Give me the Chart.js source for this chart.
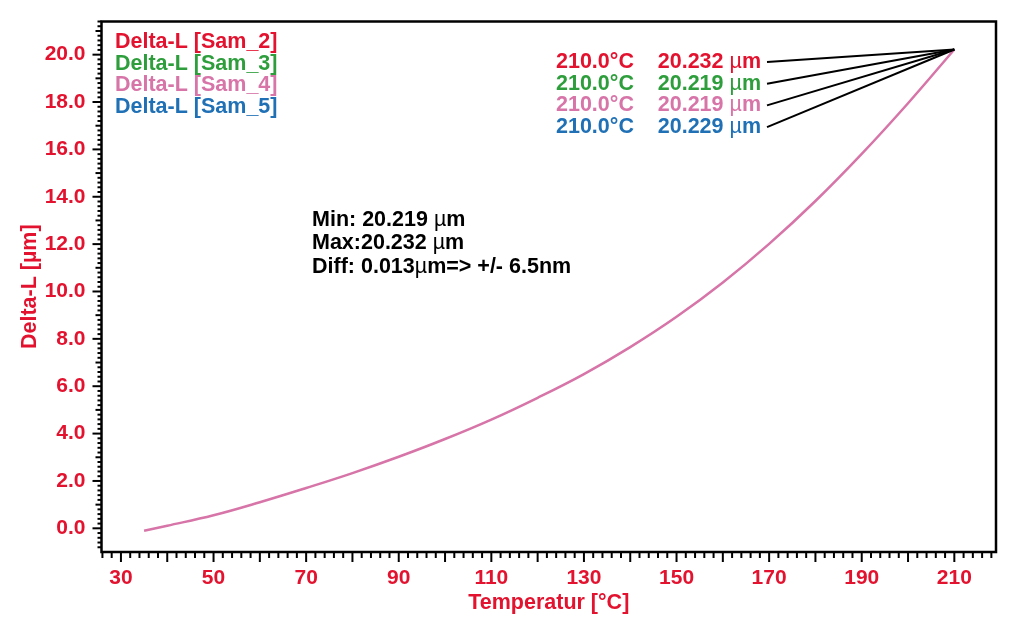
<!DOCTYPE html>
<html>
<head>
<meta charset="utf-8">
<script src="https://cdn.jsdelivr.net/npm/chart.js@4.4.1/dist/chart.umd.min.js"></script>
<style>
  html, body { margin: 0; padding: 0; background: #fff; }
  #wrap { width: 1024px; height: 623px; }
</style>
</head>
<body>
<div id="wrap"><canvas id="chart"></canvas></div>
<script>
// Kurve Delta-L ueber Temperatur
const temps = [35, 40, 50, 60, 70, 80, 90, 100, 110, 120, 130, 140, 150, 160, 170, 180, 190, 200, 210];
const deltaL = [-0.1, 0.11, 0.55, 1.10, 1.70, 2.33, 3.02, 3.77, 4.59, 5.51, 6.51, 7.65, 8.93, 10.38, 12.01, 13.82, 15.81, 17.95, 20.219];

// Proben / Legende
const samples = ['Sam_2', 'Sam_3', 'Sam_4', 'Sam_5'];
const sampleColors = ['#e3132f', '#2e9e3c', '#d774a8', '#1f70b5'];
const endTemps = [210.0, 210.0, 210.0, 210.0];
const endValues = [20.232, 20.219, 20.219, 20.229];

const statsLines = ['Min: 20.219 µm', 'Max:20.232 µm', 'Diff: 0.013µm=> +/- 6.5nm'];

// Achsen
const xMin = 25.8, xMax = 219;
const yMin = -1.0, yMax = 21.4;
const xTickValues = [];
for (let v = 26; v <= 218; v += 2) xTickValues.push(v);
const yTickValues = [];
for (let i = -4; i <= 107; i++) yTickValues.push(Math.round(i * 2) / 10);

const RED = '#e3132f';
const FONT = "'Liberation Sans', Arial, sans-serif";
const FS = 21.5;

// Text mit duennem "µ" (wie im Original)
function drawMixed(ctx, text, x, y, align) {
    const parts = text.split(/(µ)/).filter(p => p.length);
    const fontOf = p => (p === 'µ' ? FS + 'px ' + FONT : 'bold ' + FS + 'px ' + FONT);
    let total = 0;
    parts.forEach(p => { ctx.font = fontOf(p); total += ctx.measureText(p).width; });
    let cx = align === 'right' ? x - total : x;
    ctx.textAlign = 'left';
    parts.forEach(p => {
        ctx.font = fontOf(p);
        ctx.fillText(p, cx, y);
        cx += ctx.measureText(p).width;
    });
}

const tickPlugin = {
    id: 'tickMarks',
    afterDraw(chart) {
        const ctx = chart.ctx;
        const xs = chart.scales.x, ys = chart.scales.y;
        const area = chart.chartArea;
        ctx.save();
        ctx.strokeStyle = '#000';
        ctx.lineWidth = 2;
        // x ticks
        xTickValues.forEach(v => {
            const px = xs.getPixelForValue(v);
            const len = (v % 10 === 0) ? 10 : 6;
            ctx.beginPath();
            ctx.moveTo(px, area.bottom);
            ctx.lineTo(px, area.bottom + len);
            ctx.stroke();
        });
        // y ticks
        yTickValues.forEach(v => {
            const py = ys.getPixelForValue(v);
            const r = Math.round(v * 10);
            let len = 4;
            if (r % 20 === 0) len = 9;
            else if (r % 10 === 0) len = 6;
            ctx.beginPath();
            ctx.moveTo(area.left, py);
            ctx.lineTo(area.left - len, py);
            ctx.stroke();
        });
        // Rahmen
        ctx.lineWidth = 2.5;
        ctx.strokeRect(area.left, area.top, area.right - area.left, area.bottom - area.top);

        // Legende oben links
        ctx.textBaseline = 'middle';
        samples.forEach((s, i) => {
            ctx.fillStyle = sampleColors[i];
            drawMixed(ctx, 'Delta-L [' + s + ']', 115, 42 + i * 21.7, 'left');
        });

        // Endwerte mit Fuehrungslinien
        const ex = xs.getPixelForValue(temps[temps.length - 1]);
        const ey = ys.getPixelForValue(deltaL[deltaL.length - 1]);
        endValues.forEach((val, i) => {
            const y = 62 + i * 21.7;
            ctx.fillStyle = sampleColors[i];
            drawMixed(ctx, endTemps[i].toFixed(1) + '°C', 556, y, 'left');
            drawMixed(ctx, val.toFixed(3) + ' µm', 761, y, 'right');
            ctx.strokeStyle = '#000';
            ctx.lineWidth = 2;
            ctx.beginPath();
            ctx.moveTo(767, y);
            ctx.lineTo(ex, ey);
            ctx.stroke();
        });

        // Statistik
        ctx.fillStyle = '#000';
        statsLines.forEach((t, i) => {
            drawMixed(ctx, t, 312, 220 + i * 23.3, 'left');
        });
        ctx.restore();
    }
};

new Chart(document.getElementById('chart'), {
    type: 'line',
    data: {
        datasets: [{
            label: 'Delta-L [Sam_4]',
            data: temps.map((t, i) => ({ x: t, y: deltaL[i] })),
            borderColor: sampleColors[2],
            borderWidth: 2.5,
            pointRadius: 0,
            fill: false,
            tension: 0.4
        }]
    },
    options: {
        responsive: true,
        maintainAspectRatio: false,
        animation: false,
        layout: { padding: { left: 0, top: 21.5, right: 28, bottom: 0 } },
        plugins: {
            legend: { display: false },
            tooltip: { enabled: false }
        },
        scales: {
            x: {
                type: 'linear',
                min: xMin,
                max: xMax,
                afterBuildTicks: s => { s.ticks = xTickValues.map(v => ({ value: v })); },
                afterFit: s => { s.height = 71; s.paddingLeft = 0; s.paddingRight = 0; },
                grid: { display: false, drawTicks: false },
                border: { display: false },
                ticks: {
                    autoSkip: false,
                    maxRotation: 0,
                    padding: 14,
                    color: RED,
                    font: { family: FONT, size: 21, weight: 'bold' },
                    callback: v => ((v - 30) % 20 === 0 ? String(v) : '')
                },
                title: {
                    display: true,
                    text: 'Temperatur [°C]',
                    color: RED,
                    padding: { top: 0, bottom: 7 },
                    font: { family: FONT, size: 21.5, weight: 'bold' }
                }
            },
            y: {
                type: 'linear',
                min: yMin,
                max: yMax,
                afterBuildTicks: s => { s.ticks = yTickValues.map(v => ({ value: v })); },
                afterFit: s => { s.width = 101.5; s.paddingTop = 0; s.paddingBottom = 0; },
                grid: { display: false, drawTicks: false },
                border: { display: false },
                ticks: {
                    autoSkip: false,
                    padding: 16,
                    color: RED,
                    font: { family: FONT, size: 21, weight: 'bold' },
                    callback: v => (Math.round(v * 10) % 20 === 0 && v >= 0 && v <= 20 ? v.toFixed(1) : '')
                },
                title: {
                    display: true,
                    text: 'Delta-L [µm]',
                    color: RED,
                    padding: { top: 17, bottom: 0 },
                    font: { family: FONT, size: 21.5, weight: 'bold' }
                }
            }
        }
    },
    plugins: [tickPlugin]
});
</script>
</body>
</html>
